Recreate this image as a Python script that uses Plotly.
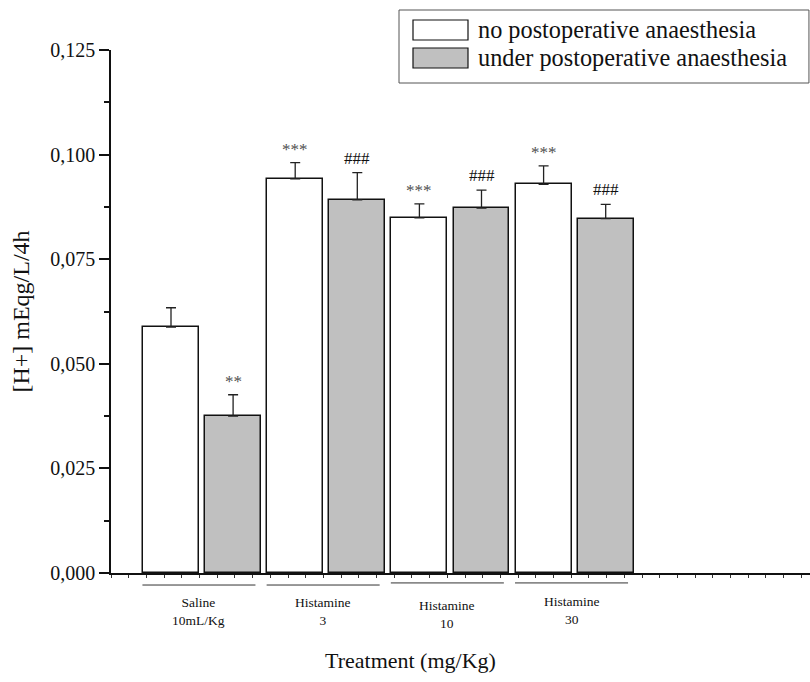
import plotly.graph_objects as go

# ---- data ----
groups = ["Saline<br>10mL/Kg", "Histamine<br>3", "Histamine<br>10", "Histamine<br>30"]
series_names = ["no postoperative anaesthesia", "under postoperative anaesthesia"]
no_anaesthesia = [0.0588, 0.0942, 0.0849, 0.0929]
no_anaesthesia_err = [0.0046, 0.0039, 0.0033, 0.0044]
under_anaesthesia = [0.0375, 0.0892, 0.0872, 0.0847]
under_anaesthesia_err = [0.0051, 0.0065, 0.0043, 0.0034]
sig_no = ["", "***", "***", "***"]
sig_under = ["**", "###", "###", "###"]
y_ticks = [0.000, 0.025, 0.050, 0.075, 0.100, 0.125]
y_tick_labels = ["0,000", "0,025", "0,050", "0,075", "0,100", "0,125"]
x_title = "Treatment (mg/Kg)"
y_title = "[H+] mEqg/L/4h"

FONT = "Liberation Serif, Times New Roman, serif"
WHITE = "#ffffff"
GRAY = "#c0c0c0"

x_no = [2 * i + 1 for i in range(len(groups))]
x_under = [2 * i + 2 for i in range(len(groups))]

fig = go.Figure()
fig.add_trace(go.Bar(
    x=x_no, y=no_anaesthesia, width=0.9, name=series_names[0],
    marker=dict(color=WHITE, line=dict(color="#111", width=1.5)),
    error_y=dict(type="data", array=no_anaesthesia_err, arrayminus=[0] * 4,
                 symmetric=False, color="#222", thickness=1.3, width=5),
    showlegend=False,
))
fig.add_trace(go.Bar(
    x=x_under, y=under_anaesthesia, width=0.9, name=series_names[1],
    marker=dict(color=GRAY, line=dict(color="#111", width=1.5)),
    error_y=dict(type="data", array=under_anaesthesia_err, arrayminus=[0] * 4,
                 symmetric=False, color="#222", thickness=1.3, width=5),
    showlegend=False,
))

annotations = []
# significance markers
for xs, vals, errs, sig in [(x_no, no_anaesthesia, no_anaesthesia_err, sig_no),
                            (x_under, under_anaesthesia, under_anaesthesia_err, sig_under)]:
    for x, v, e, s in zip(xs, vals, errs, sig):
        if not s:
            continue
        col = "#505050" if "*" in s else "#111"
        annotations.append(dict(x=x, y=v + e, xref="x", yref="y", text=s, showarrow=False,
                                yanchor="bottom", yshift=2 if "*" in s else 3,
                                font=dict(family=FONT, size=17, color=col)))

# group labels and lines under axis
shapes = []
label_dy = [0, 0, 3, -1]
for i, g in enumerate(groups):
    c = 2 * i + 1.5 - 0.05
    ly = -0.023 if i < 2 else -0.019
    shapes.append(dict(type="line", xref="x", yref="paper", x0=c - 0.91, x1=c + 0.91,
                       y0=ly, y1=ly, line=dict(color="#333", width=1)))
    annotations.append(dict(x=c, y=-0.038, xref="x", yref="paper", text=g, showarrow=False,
                            yanchor="top", yshift=-label_dy[i],
                            font=dict(family=FONT, size=13.5, color="#111")))

# x-axis title (positioned under the bar groups, as in the original)
annotations.append(dict(x=(410 - 111) / 699, y=-(660 - 573) / 523, xref="paper", yref="paper",
                        text=x_title, showarrow=False, xanchor="center", yanchor="middle",
                        font=dict(family=FONT, size=22, color="#111")))

# legend (manual)
shapes.append(dict(type="rect", xref="paper", yref="paper", x0=(399 - 111) / 699, x1=0.9985,
                   y0=(573 - 83) / 523, y1=(573 - 10) / 523,
                   line=dict(color="#555", width=1), fillcolor="white"))
for k, (nm, col) in enumerate(zip(series_names, [WHITE, GRAY])):
    top = 20 + 28 * k
    shapes.append(dict(type="rect", xref="paper", yref="paper",
                       x0=(413 - 111) / 699, x1=(468 - 111) / 699,
                       y0=(573 - top - 20) / 523, y1=(573 - top) / 523,
                       line=dict(color="#111", width=1.2), fillcolor=col))
    annotations.append(dict(x=(476 - 111) / 699, y=(573 - top - 10) / 523, xref="paper", yref="paper",
                            text=nm, showarrow=False, xanchor="left", yanchor="middle",
                            font=dict(family=FONT, size=24.3, color="#111")))

x0 = 1 - 60 / 62.1
x1 = x0 + 699 / 62.1

fig.update_layout(
    width=810, height=682,
    margin=dict(l=111, r=0, t=50, b=109),
    paper_bgcolor="white", plot_bgcolor="white",
    font=dict(family=FONT, color="#111"),
    bargap=0, barmode="overlay",
    annotations=annotations, shapes=shapes,
    xaxis=dict(range=[x0, x1], showline=True, linecolor="#111", linewidth=1.5,
               showgrid=False, zeroline=False, showticklabels=False,
               ticks="outside", ticklen=3, tickcolor="#333", tick0=x0, dtick=17.7 / 62.1),
    yaxis=dict(range=[0, 0.125], showline=True, linecolor="#111", linewidth=1.5,
               showgrid=False, zeroline=False,
               tickvals=y_ticks, ticktext=y_tick_labels, ticks="outside", ticklen=10,
               tickcolor="#111", tickwidth=1.5,
               minor=dict(ticks="outside", ticklen=5, dtick=0.0125, tickcolor="#111"),
               tickfont=dict(family=FONT, size=20),
               title=dict(text=y_title, font=dict(family=FONT, size=24), standoff=14)),
)

fig.write_html("out.html")
